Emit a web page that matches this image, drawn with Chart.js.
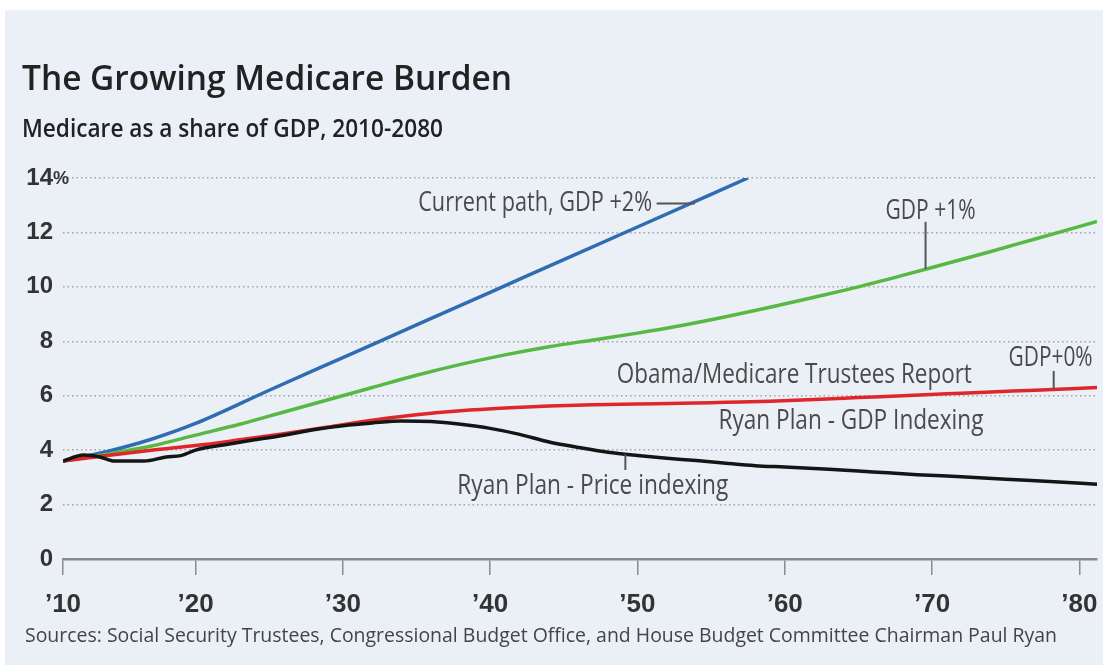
<!DOCTYPE html>
<html>
<head>
<meta charset="utf-8">
<title>The Growing Medicare Burden</title>
<script src="https://cdn.jsdelivr.net/npm/chart.js@4.4.1/dist/chart.umd.min.js"></script>
<style>
  body { margin: 0; background: #ffffff; }
  #panel { position: absolute; left: 5px; top: 10px; width: 1098px; height: 655px; background: #ebf0f7; }
  #chart { position: absolute; left: 0; top: 0; }
</style>
</head>
<body>
<div id="panel"><canvas id="chart" width="1098" height="655"></canvas></div>
<script>
const tickYears = [2011, 2020, 2030, 2040, 2050, 2060, 2070, 2080];
const tickLabels = ["\u201910", "\u201920", "\u201930", "\u201940", "\u201950", "\u201960", "\u201970", "\u201980"];
const yTicks = [0, 2, 4, 6, 8, 10, 12, 14];

// Current path, GDP +2%
const blueYears = [2011, 2014, 2017, 2020, 2025, 2030, 2035, 2040, 2045, 2050, 2055, 2057.5];
const blueValues = [3.6, 3.95, 4.4, 4.98, 6.2, 7.4, 8.6, 9.8, 11.0, 12.2, 13.4, 14.0];

// GDP +1%
const greenYears = [2011, 2014, 2017, 2020, 2023, 2026, 2029, 2032, 2035, 2038, 2041, 2044, 2047, 2050, 2053, 2056, 2059, 2062, 2065, 2068, 2071, 2074, 2077, 2081.2];
const greenValues = [3.6, 3.85, 4.15, 4.55, 4.95, 5.4, 5.85, 6.3, 6.75, 7.15, 7.5, 7.8, 8.05, 8.3, 8.58, 8.9, 9.25, 9.62, 10.0, 10.42, 10.86, 11.3, 11.76, 12.4];

// Obama / Medicare Trustees Report, Ryan Plan - GDP indexing (GDP+0%)
const redYears = [2011, 2014, 2017, 2020, 2023, 2026, 2029, 2032, 2035, 2038, 2041, 2044, 2047, 2050, 2053, 2056, 2059, 2062, 2065, 2068, 2071, 2074, 2077, 2081.2];
const redValues = [3.6, 3.8, 4.0, 4.17, 4.38, 4.6, 4.85, 5.1, 5.3, 5.45, 5.55, 5.62, 5.67, 5.7, 5.72, 5.76, 5.8, 5.86, 5.93, 6.0, 6.07, 6.14, 6.2, 6.3];

// Ryan Plan - Price indexing
const blackYears = [2011, 2012.4, 2013.5, 2014.5, 2016.5, 2018, 2019, 2020, 2022, 2024, 2026, 2028, 2030, 2032, 2034, 2036, 2038, 2040, 2042, 2044, 2046, 2048, 2050, 2052, 2054, 2056, 2058, 2060, 2063, 2066, 2069, 2072, 2075, 2078, 2081.2];
const blackValues = [3.6, 3.82, 3.75, 3.6, 3.6, 3.75, 3.8, 4.0, 4.2, 4.38, 4.55, 4.75, 4.9, 5.0, 5.07, 5.05, 4.95, 4.8, 4.58, 4.3, 4.1, 3.92, 3.8, 3.7, 3.62, 3.52, 3.43, 3.38, 3.3, 3.2, 3.1, 3.02, 2.93, 2.85, 2.75];

function pairs(xs, ys) {
  return xs.map(function (x, i) { return { x: x, y: ys[i] }; });
}

// labels on the chart, placed in data units (year, percent)
const notes = [
  { text: 'Current path, GDP +2%', x: 2051.0, y: 13.06, align: 'right', w: 234, leader: [[2051.3, 13.06], [2053.9, 13.06]] },
  { text: 'GDP +1%', x: 2069.9, y: 12.77, align: 'center', w: 90, leader: [[2069.56, 12.39], [2069.56, 10.66]] },
  { text: 'Obama/Medicare Trustees Report', x: 2048.6, y: 6.76, align: 'left', w: 355 },
  { text: 'GDP+0%', x: 2078.05, y: 7.39, align: 'center', w: 84, leader: [[2078.26, 6.91], [2078.26, 6.23]] },
  { text: 'Ryan Plan - GDP Indexing', x: 2055.5, y: 5.05, align: 'left', w: 265 },
  { text: 'Ryan Plan - Price indexing', x: 2037.77, y: 2.66, align: 'left', w: 271, leader: [[2049.18, 3.27], [2049.18, 3.85]] }
];

// draw text squeezed/stretched to a given width
function fitText(ctx, text, x, y, width, align) {
  const w0 = ctx.measureText(text).width;
  let left = x;
  if (align === 'right') left = x - width;
  if (align === 'center') left = x - width / 2;
  ctx.save();
  ctx.translate(left, y);
  ctx.scale(width / w0, 1);
  ctx.textAlign = 'left';
  ctx.fillText(text, 0, 0);
  ctx.restore();
}

const textLayer = {
  id: 'textLayer',
  afterDraw: function (chart) {
    const ctx = chart.ctx;
    const xs = chart.scales.x, ys = chart.scales.y;

    ctx.save();
    ctx.fillStyle = '#222';
    ctx.textBaseline = 'alphabetic';
    ctx.font = '600 34px "Open Sans"';
    fitText(ctx, 'The Growing Medicare Burden', 17, 80, 490, 'left');
    ctx.font = '600 26px "Open Sans"';
    fitText(ctx, 'Medicare as a share of GDP, 2010-2080', 17, 127, 421, 'left');

    ctx.fillStyle = '#444';
    ctx.font = '20px "Open Sans"';
    fitText(ctx, 'Sources: Social Security Trustees, Congressional Budget Office, and House Budget Committee Chairman Paul Ryan', 20, 632, 1032, 'left');

    // percent sign after the top tick
    ctx.fillStyle = '#333';
    ctx.font = 'bold 18px "Liberation Sans"';
    ctx.textBaseline = 'middle';
    ctx.fillText('%', ys.right - 10, ys.getPixelForValue(14) + 1);

    // annotations
    ctx.strokeStyle = '#555';
    ctx.lineWidth = 2;
    notes.forEach(function (n) {
      if (n.leader) {
        ctx.beginPath();
        ctx.moveTo(xs.getPixelForValue(n.leader[0][0]), ys.getPixelForValue(n.leader[0][1]));
        ctx.lineTo(xs.getPixelForValue(n.leader[1][0]), ys.getPixelForValue(n.leader[1][1]));
        ctx.stroke();
      }
    });
    ctx.fillStyle = '#4a4a4a';
    ctx.font = '27px "Open Sans"';
    ctx.textBaseline = 'middle';
    notes.forEach(function (n) {
      fitText(ctx, n.text, xs.getPixelForValue(n.x), ys.getPixelForValue(n.y), n.w, n.align);
    });
    ctx.restore();
  }
};

function line(label, xs, ys, color) {
  return {
    label: label,
    data: pairs(xs, ys),
    borderColor: color,
    backgroundColor: color,
    borderWidth: 3.5,
    pointRadius: 0,
    cubicInterpolationMode: 'monotone',
    fill: false
  };
}

new Chart(document.getElementById('chart'), {
  type: 'line',
  data: {
    datasets: [
      line('Ryan Plan - Price indexing', blackYears, blackValues, '#151515'),
      line('Obama/Medicare Trustees Report', redYears, redValues, '#e1262b'),
      line('GDP +1%', greenYears, greenValues, '#58b844'),
      line('Current path, GDP +2%', blueYears, blueValues, '#2f6db3')
    ]
  },
  options: {
    responsive: false,
    animation: false,
    layout: { padding: { top: 168, right: 6, left: 0, bottom: 0 } },
    plugins: { legend: { display: false }, tooltip: { enabled: false } },
    scales: {
      x: {
        type: 'linear',
        min: 2011,
        max: 2081.2,
        afterBuildTicks: function (scale) {
          scale.ticks = tickYears.map(function (v) { return { value: v }; });
        },
        afterFit: function (scale) {
          scale.height = 106;
          // labels may hang over the edges, keep the plot full width
          scale.paddingLeft = 0;
          scale.paddingRight = 0;
        },
        ticks: {
          autoSkip: false,
          maxRotation: 0,
          padding: 14,
          color: '#333',
          font: { family: 'Liberation Sans', size: 26, weight: 'bold' },
          callback: function (v, i) { return tickLabels[i]; }
        },
        grid: { drawOnChartArea: false, drawTicks: true, tickLength: 16, color: '#8c8c8c', lineWidth: 1.5 },
        border: { display: true, color: '#8a8a8a', width: 2.5 }
      },
      y: {
        min: 0,
        max: 14,
        afterBuildTicks: function (scale) {
          scale.ticks = yTicks.map(function (v) { return { value: v }; });
        },
        afterFit: function (scale) { scale.width = 58; },
        ticks: {
          padding: 10,
          color: '#333',
          font: { family: 'Liberation Sans', size: 24, weight: 'bold' },
          callback: function (v) { return String(v); }
        },
        grid: {
          drawTicks: false,
          lineWidth: 1.5,
          color: function (c) { return c.tick && c.tick.value === 0 ? 'rgba(0,0,0,0)' : '#a3a3a3'; }
        },
        border: { display: false, dash: [1.5, 3] }
      }
    }
  },
  plugins: [textLayer]
});
</script>
</body>
</html>
